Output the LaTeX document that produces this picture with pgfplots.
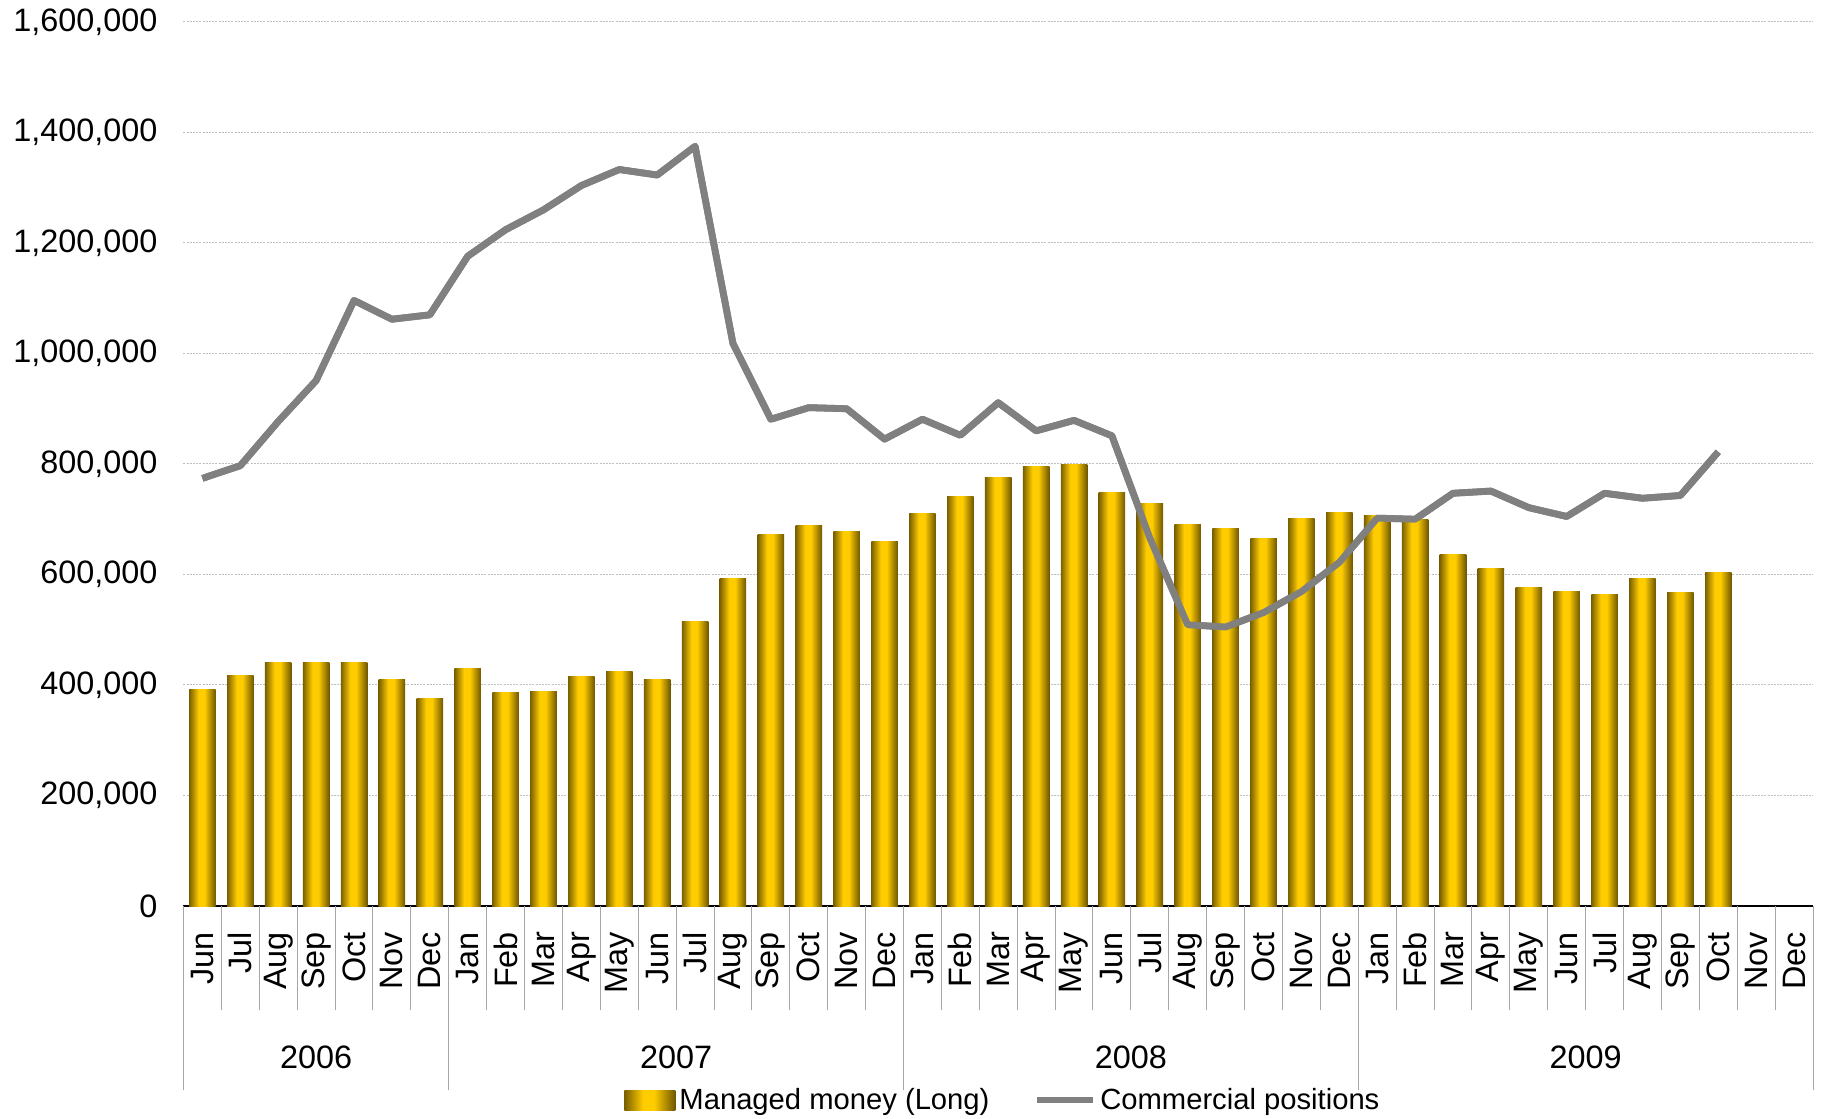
\documentclass[border=0pt]{standalone}
\usepackage{pgfplots}
\pgfplotsset{compat=1.18}
\usepackage{fontspec}
\setmainfont{Liberation Sans}
\definecolor{golddark}{HTML}{7A6000}
\definecolor{golddark2}{HTML}{6E5600}
\definecolor{gold}{HTML}{FFCC00}
\definecolor{linegray}{HTML}{808080}
\pgfdeclarehorizontalshading{goldbar}{100bp}{color(0bp)=(golddark); color(25bp)=(golddark); color(43bp)=(gold); color(54bp)=(gold); color(75bp)=(golddark2); color(100bp)=(golddark2)}
\newcommand{\tf}{\fontsize{16.2}{19}\selectfont}
\pgfplotsset{gb/.style={ybar, bar width=0.7, draw=none, shade, shading=goldbar, forget plot}}
\begin{document}
\begin{tikzpicture}
\useasboundingbox (-91.75pt,-106.5pt) rectangle (818.75pt,453pt);
\begin{axis}[
  scale only axis,
  width=814.75pt, height=442pt,
  xmin=-0.5, xmax=42.5,
  ymin=0, ymax=1600000,
  axis lines*=left,
  y axis line style={draw=none},
  x axis line style={black, line width=0.75pt},
  ytick={0,200000,400000,600000,800000,1000000,1200000,1400000,1600000},
  scaled y ticks=false,
  /pgf/number format/fixed,
  /pgf/number format/1000 sep={,},
  /pgf/number format/assume math mode=true,
  ymajorgrids,
  grid style={gray!50, dash pattern=on 1pt off 0.6pt, line width=0.5pt},
  xtick={0,...,42},
  xticklabels={Jun,Jul,Aug,Sep,Oct,Nov,Dec,Jan,Feb,Mar,Apr,May,Jun,Jul,Aug,Sep,Oct,Nov,Dec,Jan,Feb,Mar,Apr,May,Jun,Jul,Aug,Sep,Oct,Nov,Dec,Jan,Feb,Mar,Apr,May,Jun,Jul,Aug,Sep,Oct,Nov,Dec},
  xticklabel style={rotate=90, anchor=east},
  xticklabel shift=9.5pt,
  yticklabel shift=9.5pt,
  tick style={draw=none},
  major tick length=0pt,
  tick label style={font=\tf},
  clip=false,
  legend columns=2,
  legend style={at={(0.5035,-0.2195)}, anchor=center, draw=none, fill=none,
    font=\fontsize{14.6}{17}\selectfont,
    /tikz/every even column/.append style={column sep=20pt}},
]
\addplot[gb, forget plot=false,
  legend image code/.code={\shade[shading=goldbar] (0pt,-5pt) rectangle (25.5pt,5pt);}]
  coordinates {(0,391000)};
\addlegendentry{Managed money (Long)}
\addplot[linegray, line width=3.4pt, line join=round, mark=none,
  legend image code/.code={\draw[linegray, line width=3.4pt] (0pt,0pt) -- (28pt,0pt);}]
coordinates {
(0,774000) (1,797000) (2,877000) (3,951000) (4,1096000) (5,1062000) (6,1070000)
(7,1176000) (8,1224000) (9,1260000) (10,1304000) (11,1333000) (12,1323000) (13,1375000) (14,1018000) (15,881000) (16,902000) (17,900000) (18,845000)
(19,881000) (20,852000) (21,911000) (22,860000) (23,879000) (24,851000) (25,666000) (26,509000) (27,505000) (28,531000) (29,569000) (30,622000)
(31,702000) (32,700000) (33,747000) (34,751000) (35,721000) (36,705000) (37,747000) (38,738000) (39,743000) (40,822000)
};
\addlegendentry{Commercial positions}
\addplot[gb] coordinates {(1,418000)};
\addplot[gb] coordinates {(2,440000)};
\addplot[gb] coordinates {(3,440000)};
\addplot[gb] coordinates {(4,440000)};
\addplot[gb] coordinates {(5,410000)};
\addplot[gb] coordinates {(6,376000)};
\addplot[gb] coordinates {(7,429000)};
\addplot[gb] coordinates {(8,387000)};
\addplot[gb] coordinates {(9,389000)};
\addplot[gb] coordinates {(10,416000)};
\addplot[gb] coordinates {(11,425000)};
\addplot[gb] coordinates {(12,410000)};
\addplot[gb] coordinates {(13,515000)};
\addplot[gb] coordinates {(14,593000)};
\addplot[gb] coordinates {(15,673000)};
\addplot[gb] coordinates {(16,688000)};
\addplot[gb] coordinates {(17,677000)};
\addplot[gb] coordinates {(18,660000)};
\addplot[gb] coordinates {(19,711000)};
\addplot[gb] coordinates {(20,742000)};
\addplot[gb] coordinates {(21,776000)};
\addplot[gb] coordinates {(22,795000)};
\addplot[gb] coordinates {(23,799000)};
\addplot[gb] coordinates {(24,749000)};
\addplot[gb] coordinates {(25,728000)};
\addplot[gb] coordinates {(26,690000)};
\addplot[gb] coordinates {(27,683000)};
\addplot[gb] coordinates {(28,665000)};
\addplot[gb] coordinates {(29,702000)};
\addplot[gb] coordinates {(30,713000)};
\addplot[gb] coordinates {(31,707000)};
\addplot[gb] coordinates {(32,700000)};
\addplot[gb] coordinates {(33,637000)};
\addplot[gb] coordinates {(34,610000)};
\addplot[gb] coordinates {(35,576000)};
\addplot[gb] coordinates {(36,570000)};
\addplot[gb] coordinates {(37,564000)};
\addplot[gb] coordinates {(38,593000)};
\addplot[gb] coordinates {(39,568000)};
\addplot[gb] coordinates {(40,604000)};
\addplot[linegray, line width=3.4pt, line join=round, mark=none, forget plot]
coordinates {
(0,774000) (1,797000) (2,877000) (3,951000) (4,1096000) (5,1062000) (6,1070000)
(7,1176000) (8,1224000) (9,1260000) (10,1304000) (11,1333000) (12,1323000) (13,1375000) (14,1018000) (15,881000) (16,902000) (17,900000) (18,845000)
(19,881000) (20,852000) (21,911000) (22,860000) (23,879000) (24,851000) (25,666000) (26,509000) (27,505000) (28,531000) (29,569000) (30,622000)
(31,702000) (32,700000) (33,747000) (34,751000) (35,721000) (36,705000) (37,747000) (38,738000) (39,743000) (40,822000)
};
\pgfplotsinvokeforeach{-0.5,0.5,1.5,2.5,3.5,4.5,5.5,6.5,7.5,8.5,9.5,10.5,11.5,12.5,13.5,14.5,15.5,16.5,17.5,18.5,19.5,20.5,21.5,22.5,23.5,24.5,25.5,26.5,27.5,28.5,29.5,30.5,31.5,32.5,33.5,34.5,35.5,36.5,37.5,38.5,39.5,40.5,41.5,42.5}{
  \draw[gray!70, line width=0.5pt] (axis cs:#1,0) -- ++(0pt,-52pt);
}
\pgfplotsinvokeforeach{-0.5,6.5,18.5,30.5,42.5}{
  \draw[gray!70, line width=0.5pt] (axis cs:#1,0) -- ++(0pt,-92pt);
}
\node[font=\tf, yshift=-75.5pt] at (axis cs:3,0) {2006};
\node[font=\tf, yshift=-75.5pt] at (axis cs:12.5,0) {2007};
\node[font=\tf, yshift=-75.5pt] at (axis cs:24.5,0) {2008};
\node[font=\tf, yshift=-75.5pt] at (axis cs:36.5,0) {2009};
\end{axis}
\end{tikzpicture}
\end{document}
